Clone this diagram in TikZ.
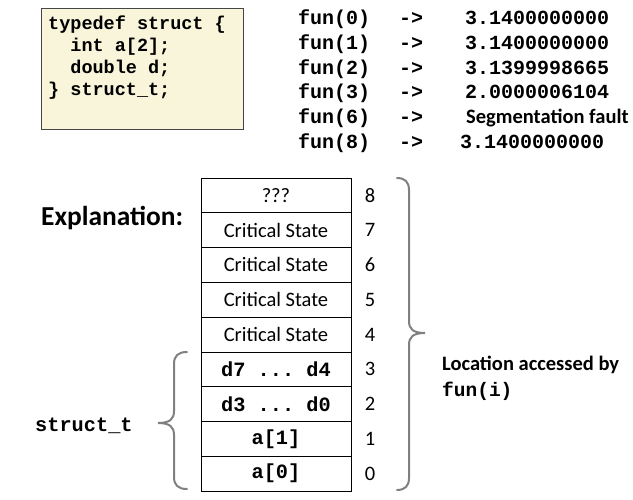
\documentclass[tikz,border=0pt]{standalone}
\usepackage{fontspec}
\setmainfont{Carlito}
\newfontfamily\mono{Liberation Mono}
\newcommand\mydots{...}
\definecolor{codefill}{RGB}{248,245,218}
\definecolor{codeborder}{RGB}{70,70,70}
\definecolor{bracegray}{RGB}{128,128,128}
\tikzset{
  codetext/.style={anchor=base west, inner sep=0pt, font=\mono\bfseries\fontsize{18.5}{20}\selectfont},
  funtext/.style={anchor=base west, inner sep=0pt, font=\mono\bfseries\fontsize{20}{22}\selectfont},
  sanstext/.style={anchor=base west, inner sep=0pt, font=\bfseries\fontsize{20.5}{23}\selectfont},
  cell/.style={draw=black, line width=0.8pt, minimum width=150pt, minimum height=34.78pt, inner sep=0pt, font=\fontsize{20.5}{23}\selectfont},
  monocell/.style={cell, font=\mono\bfseries\fontsize{20.3}{22}\selectfont},
  idx/.style={inner sep=0pt, font=\fontsize{20.5}{23}\selectfont},
  bracestyle/.style={draw=bracegray, line width=2pt, line cap=round},
}
\begin{document}
\begin{tikzpicture}[x=1pt,y=-1pt]
\useasboundingbox (0,0) rectangle (633,499);
% code box
\node[draw=codeborder, fill=codefill, line width=1.3pt, minimum width=202pt, minimum height=121pt, anchor=north west, inner sep=0pt] (codebox) at (41,8) {};
\node[codetext] (c1) at (48,29.5) {typedef struct \{};
\node[codetext] (c2) at (48,51.5) {\ \ int a[2];};
\node[codetext] (c3) at (48,73.3) {\ \ double d;};
\node[codetext] (c4) at (48,95) {\} struct\_t;};
% fun results
\foreach \i/\arg/\y in {0/0/24,1/1/49,2/2/74,3/3/98.5,4/6/123,5/8/148}{
  \node[funtext] (f\i) at (298,\y) {fun(\arg)};
  \node[funtext] (a\i) at (399,\y) {->};
}
\node[funtext] (r0) at (465,24) {3.1400000000};
\node[funtext] (r1) at (465,49) {3.1400000000};
\node[funtext] (r2) at (465,74) {3.1399998665};
\node[funtext] (r3) at (465,98.5) {2.0000006104};
\node[sanstext] (r4) at (466,123) {Segmentation fault};
\node[funtext] (r5) at (460,148) {3.1400000000};
% explanation
\node[anchor=base west, inner sep=0pt, font=\bfseries\fontsize{27.4}{30}\selectfont] (expl) at (41,225) {Explanation:};
% memory table
\foreach \k/\txt/\st in {8/???/cell,7/Critical State/cell,6/Critical State/cell,5/Critical State/cell,4/Critical State/cell,3/d7 \mydots\ d4/monocell,2/d3 \mydots\ d0/monocell,1/a[1]/monocell,0/a[0]/monocell}{
  \node[\st] (m\k) at (276,{178+(8-\k+0.5)*34.78}) {\txt};
  \node[idx] (n\k) at (370,{178+(8-\k+0.5)*34.78}) {\k};
}
% struct_t label and left brace
\node[anchor=base west, inner sep=0pt, font=\mono\bfseries\fontsize{20.3}{22}\selectfont] (st) at (35,431) {struct\_t};
\coordinate (lt) at (187,352);
\coordinate (lb) at (187,489);
\coordinate (ltip) at (158,423);
\draw[bracestyle] (lt) .. controls (178,352) and (174,356) .. (174,364) -- (174,411) .. controls (174,419) and (170,423) .. (ltip) .. controls (170,423) and (174,427) .. (174,435) -- (174,477) .. controls (174,485) and (178,489) .. (lb);
% right brace and label
\coordinate (rt) at (397,178);
\coordinate (rb) at (397,490);
\coordinate (rtip) at (425,333);
\draw[bracestyle] (rt) .. controls (405,178) and (409,182) .. (409,190) -- (409,321) .. controls (409,329) and (413,333) .. (rtip) .. controls (413,333) and (409,337) .. (409,345) -- (409,478) .. controls (409,486) and (405,490) .. (rb);
\node[sanstext] (loc) at (442,370) {Location accessed by};
\node[anchor=base west, inner sep=0pt, font=\mono\bfseries\fontsize{19.5}{22}\selectfont] (funi) at (442,396.5) {fun(i)};
\end{tikzpicture}
\end{document}
